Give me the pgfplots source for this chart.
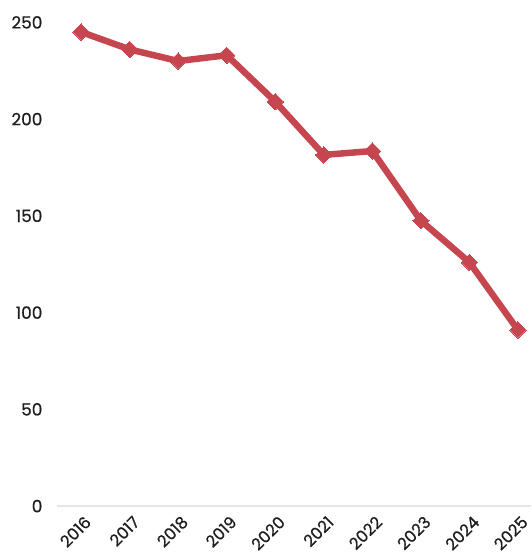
\documentclass[border=0pt]{standalone}
\usepackage{fontspec}
\setmainfont{Poppins}[FakeBold=0.5]
\usepackage{pgfplots}
\pgfplotsset{compat=1.18}
\definecolor{linered}{RGB}{198,70,80}
\definecolor{txt}{RGB}{30,30,30}
\begin{document}
\begin{tikzpicture}
\begin{axis}[
  scale only axis,
  width=475bp, height=504bp,
  xmin=-0.5, xmax=9.27,
  ymin=0, ymax=260,
  axis line style={draw=none},
  ytick={0,50,100,150,200,250},
  xtick={0,...,9},
  xticklabels={2016,2017,2018,2019,2020,2021,2022,2023,2024,2025},
  major tick length=0pt,
  /pgf/number format/assume math mode=true,
  yticklabel style={font=\fontsize{17}{20}\selectfont, text=txt, anchor=east, xshift=-11bp},
  xticklabel style={font=\fontsize{16.5}{20}\selectfont, text=txt, rotate=45, anchor=east, xshift=-1bp, yshift=-14bp},
  clip=false,
]
\draw[black!10, line width=1.5bp] (axis cs:-0.5,0) -- (axis cs:9.27,0);
\addplot[color=linered, line width=6.5bp, mark=square*, mark size=5.8bp, mark options={solid, fill=linered, line width=0bp, rotate=45}] coordinates {
(0,245) (1,236) (2,230) (3,233) (4,209) (5,181.5) (6,183.5) (7,147.5) (8,126) (9,91)
};
\end{axis}
\pgfresetboundingbox
\useasboundingbox (-57bp,-49bp) rectangle (475bp,507bp);
\end{tikzpicture}
\end{document}
